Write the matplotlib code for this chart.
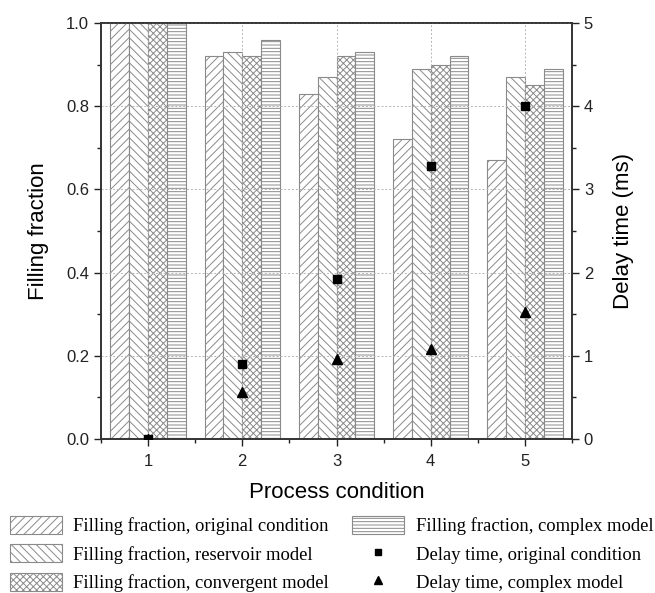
import matplotlib
matplotlib.use("Agg")
import matplotlib.pyplot as plt
import numpy as np
from matplotlib.ticker import MultipleLocator, FormatStrFormatter
from matplotlib.lines import Line2D

conditions = [1, 2, 3, 4, 5]
ff_original = [1.00, 0.92, 0.83, 0.72, 0.67]
ff_reservoir = [1.00, 0.93, 0.87, 0.89, 0.87]
ff_convergent = [1.00, 0.92, 0.92, 0.90, 0.85]
ff_complex = [1.00, 0.96, 0.93, 0.92, 0.89]
delay_original = [0.0, 0.90, 1.92, 3.28, 4.00]
delay_complex = [0.0, 0.565, 0.96, 1.08, 1.53]

bar_labels = ["Filling fraction, original condition",
              "Filling fraction, reservoir model",
              "Filling fraction, convergent model",
              "Filling fraction, complex model"]
delay_labels = ["Delay time, original condition",
                "Delay time, complex model"]

plt.rcParams["hatch.linewidth"] = 0.7
plt.rcParams["hatch.color"] = "#8a8a8a"
sans = ["Liberation Sans", "DejaVu Sans"]
serif = ["Liberation Serif", "DejaVu Serif"]

fig = plt.figure(figsize=(6.55, 5.93), dpi=100)
ax = fig.add_axes([0.1542, 0.2597, 0.7191, 0.7015])
ax2 = ax.twinx()

x = np.array(conditions, dtype=float)
width = 0.2
series = [ff_original, ff_reservoir, ff_convergent, ff_complex]
hatches = ["////", "\\\\\\\\", "xxxxx", "-----"]
handles = []
for i, (vals, h) in enumerate(zip(series, hatches)):
    b = ax.bar(x + (i - 1.5) * width, vals, width, facecolor="white",
               edgecolor="#8a8a8a", linewidth=0.8, hatch=h, zorder=1)
    handles.append(b)

ax.set_xlim(0.5, 5.5)
ax.set_ylim(0, 1.0)
ax.xaxis.set_major_locator(MultipleLocator(1))
ax.xaxis.set_minor_locator(MultipleLocator(0.5))
ax.yaxis.set_major_locator(MultipleLocator(0.2))
ax.yaxis.set_minor_locator(MultipleLocator(0.1))
ax.yaxis.set_major_formatter(FormatStrFormatter("%.1f"))
ax.grid(True, which="major", linestyle=(0, (2, 2)), color="#b5b5b5",
        linewidth=0.7, zorder=3)
ax.set_axisbelow(False)

ax2.set_ylim(0, 5)
ax2.yaxis.set_major_locator(MultipleLocator(1))
ax2.yaxis.set_minor_locator(MultipleLocator(0.5))
ax2.plot(x, delay_original, linestyle="none", marker="s",
         color="black", markersize=5.5, zorder=5)
ax2.plot(x, delay_complex, linestyle="none", marker="^",
         color="black", markersize=6.5, zorder=5)

for a in (ax, ax2):
    a.tick_params(which="both", direction="out", width=1.0, colors="#222222",
                  labelsize=12)
    a.tick_params(which="major", length=5)
    a.tick_params(which="minor", length=3)
    for s in a.spines.values():
        s.set_linewidth(1.2)
        s.set_color("#333333")
    for lab in a.get_xticklabels() + a.get_yticklabels():
        lab.set_family(sans)
ax.tick_params(axis="y", which="both", right=False)
ax.tick_params(axis="x", which="both", top=False)
ax.tick_params(axis="x", which="major", pad=6)
ax2.tick_params(axis="x", which="both", top=False, bottom=False)

ax.set_xlabel("Process condition", family=sans, fontsize=16, labelpad=9)
ax.set_ylabel("Filling fraction", family=sans, fontsize=16, labelpad=12)
ax2.set_ylabel("Delay time (ms)", family=sans, fontsize=16, labelpad=14)

leg_handles = handles + [
    Line2D([], [], linestyle="none", marker="s", color="black", markersize=5),
    Line2D([], [], linestyle="none", marker="^", color="black", markersize=6)]
leg = fig.legend(leg_handles, bar_labels + delay_labels, ncol=2,
                 loc="upper left", bbox_to_anchor=(10 / 655, 1 - 516 / 593),
                 frameon=False, prop={"family": serif, "size": 13.4},
                 handlelength=2.8, handleheight=1.08, columnspacing=1.25,
                 labelspacing=0.5, handletextpad=0.6, borderpad=0,
                 borderaxespad=0)

fig.savefig("out.png", dpi=100)
